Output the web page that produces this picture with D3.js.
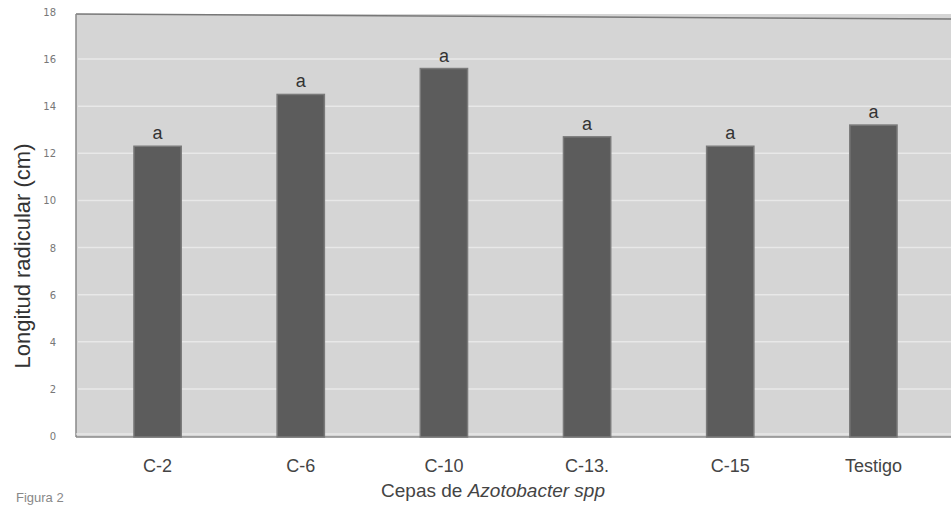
<!DOCTYPE html>
<html>
<head>
<meta charset="utf-8">
<script src="https://cdn.jsdelivr.net/npm/d3@7"></script>
<style>
  body { margin: 0; background: #fff; }
  svg { display: block; }
</style>
</head>
<body>
<div id="chart"></div>
<script>

// Data
const categories = ['C-2', 'C-6', 'C-10', 'C-13.', 'C-15', 'Testigo']
const values = [12.3, 14.5, 15.6, 12.7, 12.3, 13.2]
const letters = ['a', 'a', 'a', 'a', 'a', 'a']
const yTicks = [0, 2, 4, 6, 8, 10, 12, 14, 16, 18]

const width = 951, height = 505

var svg = d3.select('#chart')
    .append('svg')
    .attr('width', width)
    .attr('height', height)

// plot frame
const plotLeft = 76, plotRight = 951, plotTop = 14, plotBottom = 437

var x = d3.scaleBand()
    .domain(categories)
    .range([86, 945])
    .paddingInner(0.67)
    .paddingOuter(0.335)

var y = d3.scaleLinear()
    .domain([0, 18])
    .range([436, 12])

// background panel
svg.append('rect')
    .attr('x', plotLeft)
    .attr('y', plotTop)
    .attr('width', plotRight - plotLeft)
    .attr('height', plotBottom - plotTop)
    .attr('fill', '#d5d5d5')

// grid lines
svg.append('g')
    .selectAll('line')
    .data(yTicks.filter(d => d > 0 && d < 18))
    .enter()
    .append('line')
    .attr('x1', plotLeft + 2)
    .attr('x2', plotRight)
    .attr('y1', d => y(d))
    .attr('y2', d => y(d))
    .attr('stroke', '#e8e8e8')
    .attr('stroke-width', 1.5)

// frame lines
svg.append('line')
    .attr('x1', plotLeft).attr('x2', plotRight)
    .attr('y1', plotTop).attr('y2', plotTop + 5)
    .attr('stroke', '#777').attr('stroke-width', 1.5)
svg.append('line')
    .attr('x1', plotLeft).attr('x2', plotLeft)
    .attr('y1', plotTop).attr('y2', plotBottom)
    .attr('stroke', '#888').attr('stroke-width', 1.5)
svg.append('line')
    .attr('x1', plotLeft).attr('x2', plotRight)
    .attr('y1', plotBottom).attr('y2', plotBottom)
    .attr('stroke', '#888').attr('stroke-width', 1.5)
svg.append('line')
    .attr('x1', plotLeft).attr('x2', plotRight)
    .attr('y1', plotBottom - 3).attr('y2', plotBottom - 3)
    .attr('stroke', '#f2f2f2').attr('stroke-width', 1.2)

// bars
svg.append('g')
    .selectAll('rect')
    .data(values)
    .enter()
    .append('rect')
    .attr('x', (d, i) => x(categories[i]))
    .attr('y', d => y(d))
    .attr('width', x.bandwidth())
    .attr('height', d => plotBottom - y(d))
    .attr('fill', '#5c5c5c')
    .attr('stroke', '#7a7a7a')
    .attr('stroke-width', 1.5)

// significance letters
svg.append('g')
    .selectAll('text')
    .data(values)
    .enter()
    .append('text')
    .attr('x', (d, i) => x(categories[i]) + x.bandwidth() / 2)
    .attr('y', d => y(d) - 7)
    .attr('text-anchor', 'middle')
    .attr('font-family', 'Liberation Sans, Arial, sans-serif')
    .attr('font-size', 18)
    .attr('fill', '#333')
    .text((d, i) => letters[i])

// y axis labels
var yAxis = svg.append('g')
    .attr('transform', `translate(${plotLeft - 20},0)`)
    .call(d3.axisLeft(y).tickValues(yTicks).tickSize(0).tickPadding(0))
yAxis.select('.domain').remove()
yAxis.selectAll('text')
    .attr('font-family', 'DejaVu Sans, sans-serif')
    .attr('font-size', 10)
    .attr('fill', '#777')
    .attr('dy', '0.35em')

// x axis labels
var xAxis = svg.append('g')
    .attr('transform', `translate(0,${plotBottom})`)
    .call(d3.axisBottom(x).tickSize(0).tickPadding(22))
xAxis.select('.domain').remove()
xAxis.selectAll('text')
    .attr('font-family', 'Liberation Sans Narrow, Liberation Sans, Arial, sans-serif')
    .attr('font-size', 18)
    .attr('fill', '#444')

// axis titles
svg.append('text')
    .attr('transform', 'translate(30,256) rotate(-90)')
    .attr('text-anchor', 'middle')
    .attr('font-family', 'Liberation Sans, Arial, sans-serif')
    .attr('font-size', 22)
    .attr('fill', '#333')
    .text('Longitud radicular (cm)')

var xTitle = svg.append('text')
    .attr('x', 493)
    .attr('y', 497)
    .attr('text-anchor', 'middle')
    .attr('font-family', 'Liberation Sans, Arial, sans-serif')
    .attr('font-size', 19)
    .attr('fill', '#444')
xTitle.append('tspan').text('Cepas de ')
xTitle.append('tspan').attr('font-style', 'italic').text('Azotobacter spp')

svg.append('text')
    .attr('x', 16)
    .attr('y', 502)
    .attr('font-family', 'Liberation Sans, Arial, sans-serif')
    .attr('font-size', 13)
    .attr('fill', '#888')
    .text('Figura 2')
</script>
</body>
</html>
